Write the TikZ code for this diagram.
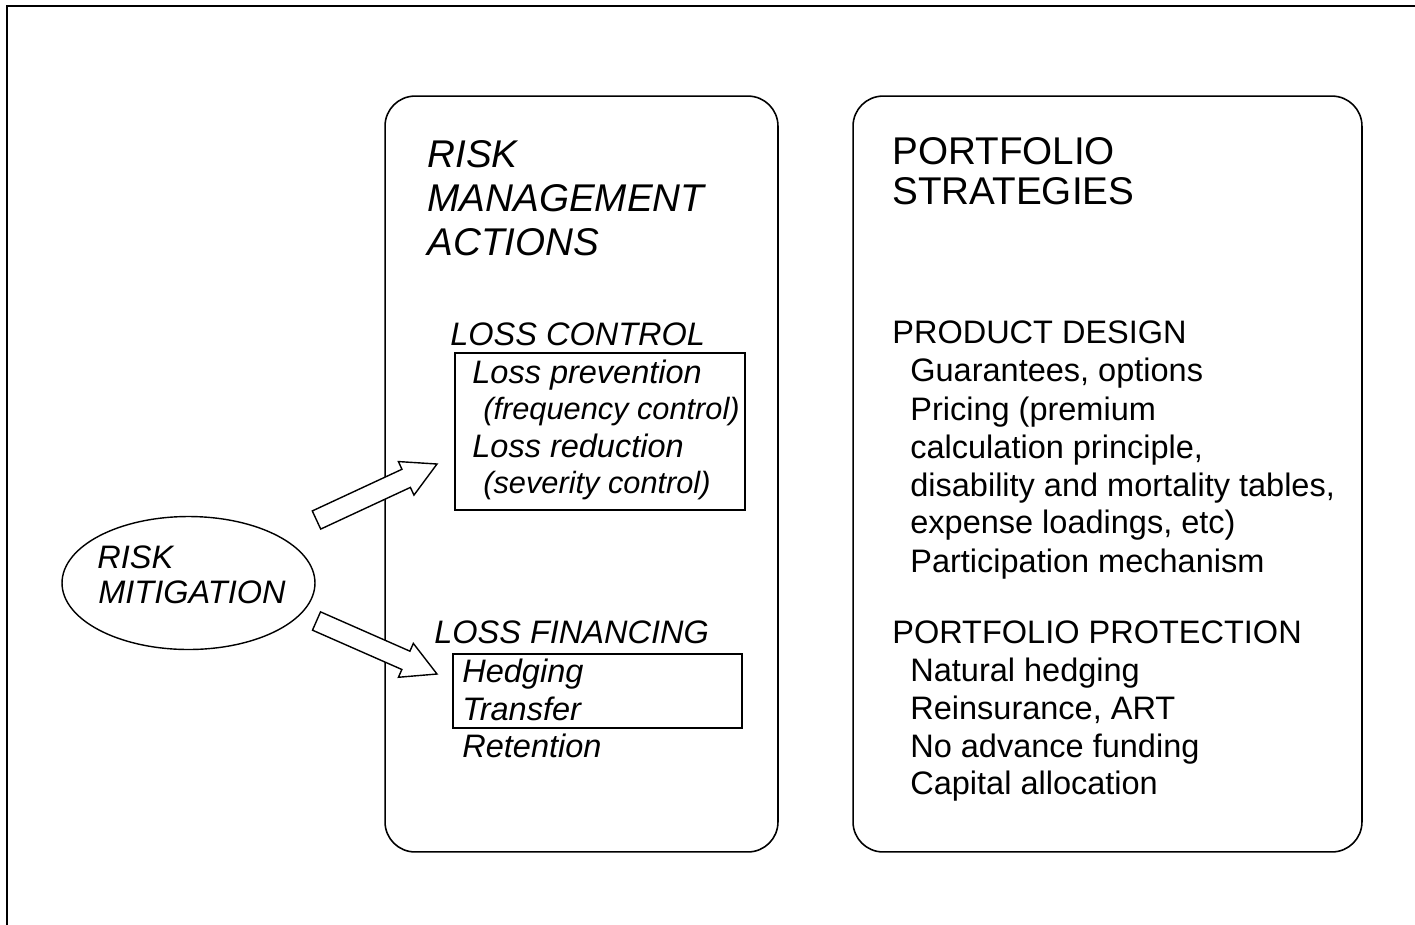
\documentclass[tikz,border=0pt]{standalone}
\usepackage{fontspec}
\setmainfont{Liberation Sans}
\usepackage{tikz}
\usetikzlibrary{calc}
\usetikzlibrary{shapes.geometric}
\tikzstyle{panel} = [rectangle, rounded corners=0.6cm, draw=black, line width=0.9pt, inner sep=0pt]
\tikzstyle{inbox} = [rectangle, draw=black, line width=0.8pt, inner sep=0pt]
\tikzstyle{txt} = [anchor=base west, inner sep=0pt, font=\fontsize{18.5}{22}\selectfont]
\tikzstyle{itxt} = [txt, font=\fontsize{18.5}{22}\selectfont\itshape]
\tikzstyle{stxt} = [txt, font=\fontsize{17.5}{21}\selectfont\itshape]
\tikzstyle{ttl} = [txt, font=\fontsize{22}{26}\selectfont]
\tikzstyle{ittl} = [txt, font=\fontsize{22}{26}\selectfont\itshape]
\tikzstyle{arrowbody} = [draw=black, fill=white, line width=0.8pt, line join=miter]
% hollow block arrow from #1 (tail middle) to #2 (tip)
\newcommand{\fatarrow}[2]{%
  \coordinate (fa-m) at ($(#2)!0.68cm!(#1)$);
  \draw[arrowbody] ($(#1)!0.2cm!90:(#2)$) -- ($(fa-m)!0.2cm!-90:(#1)$)
    -- ($(fa-m)!0.37cm!-90:(#1)$) -- (#2) -- ($(fa-m)!0.37cm!90:(#1)$)
    -- ($(fa-m)!0.2cm!90:(#1)$) -- ($(#1)!0.2cm!-90:(#2)$) -- cycle;}

\begin{document}
\begin{tikzpicture}[x=0.02cm, y=-0.02cm]
\useasboundingbox (0,0) rectangle (1415,924);
% frame
\draw [line width=1.1pt] (7,940) -- (7,6) -- (1430,6);

% panels
\node [panel, minimum width=7.86cm, minimum height=15.12cm] (rma) at (581.5,474) {};
\node [panel, minimum width=10.18cm, minimum height=15.12cm] (pst) at (1107.5,474) {};
\node [inbox, minimum width=5.8cm, minimum height=3.14cm] (ctrl) at (600,431.5) {};
\node [inbox, minimum width=5.78cm, minimum height=1.48cm] (fin) at (597.5,691) {};
\node [ellipse, draw=black, line width=0.8pt, inner sep=0pt, minimum width=5.06cm, minimum height=2.66cm] (mit) at (188.5,583) {};

% left panel
\node [ittl] (rma1) at (427,167) {RISK};
\node [ittl] (rma2) at (427,211) {MANAGEMENT};
\node [ittl] (rma3) at (427,255) {ACTIONS};
\node [itxt] (lc) at (450,345) {LOSS CONTROL};
\node [itxt] (lc1) at (472,383) {Loss prevention};
\node [stxt] (lc2) at (483,419) {(frequency control)};
\node [itxt] (lc3) at (472,457) {Loss reduction};
\node [stxt] (lc4) at (483,493) {(severity control)};
\node [itxt] (lf) at (434,643) {LOSS FINANCING};
\node [itxt] (lf1) at (462,682) {Hedging};
\node [itxt] (lf2) at (462,720) {Transfer};
\node [itxt] (lf3) at (462,757) {Retention};

% ellipse
\node [itxt] (mit1) at (97,568) {RISK};
\node [itxt] (mit2) at (98,603) {MITIGATION};

% right panel
\node [ttl] (pst1) at (892,164) {PORTFOLIO};
\node [ttl] (pst2) at (892,204) {STRATEGIES};
\node [txt] (pd) at (892,343) {PRODUCT DESIGN};
\node [txt] (pd1) at (910,381) {Guarantees, options};
\node [txt] (pd2) at (910,420) {Pricing (premium};
\node [txt] (pd3) at (910,458) {calculation principle,};
\node [txt] (pd4) at (910,496) {disability and mortality tables,};
\node [txt] (pd5) at (910,533) {expense loadings, etc)};
\node [txt] (pd6) at (910,572) {Participation mechanism};
\node [txt] (pp) at (892,643) {PORTFOLIO PROTECTION};
\node [txt] (pp1) at (910,681) {Natural hedging};
\node [txt] (pp2) at (910,719) {Reinsurance, ART};
\node [txt] (pp3) at (910,757) {No advance funding};
\node [txt] (pp4) at (910,794) {Capital allocation};

% block arrows
\coordinate (up-from) at (316.5,520);
\coordinate (up-to) at (437,464);
\coordinate (dn-from) at (316.5,621);
\coordinate (dn-to) at (437,674);
\fatarrow{up-from}{up-to}
\fatarrow{dn-from}{dn-to}
\end{tikzpicture}
\end{document}
